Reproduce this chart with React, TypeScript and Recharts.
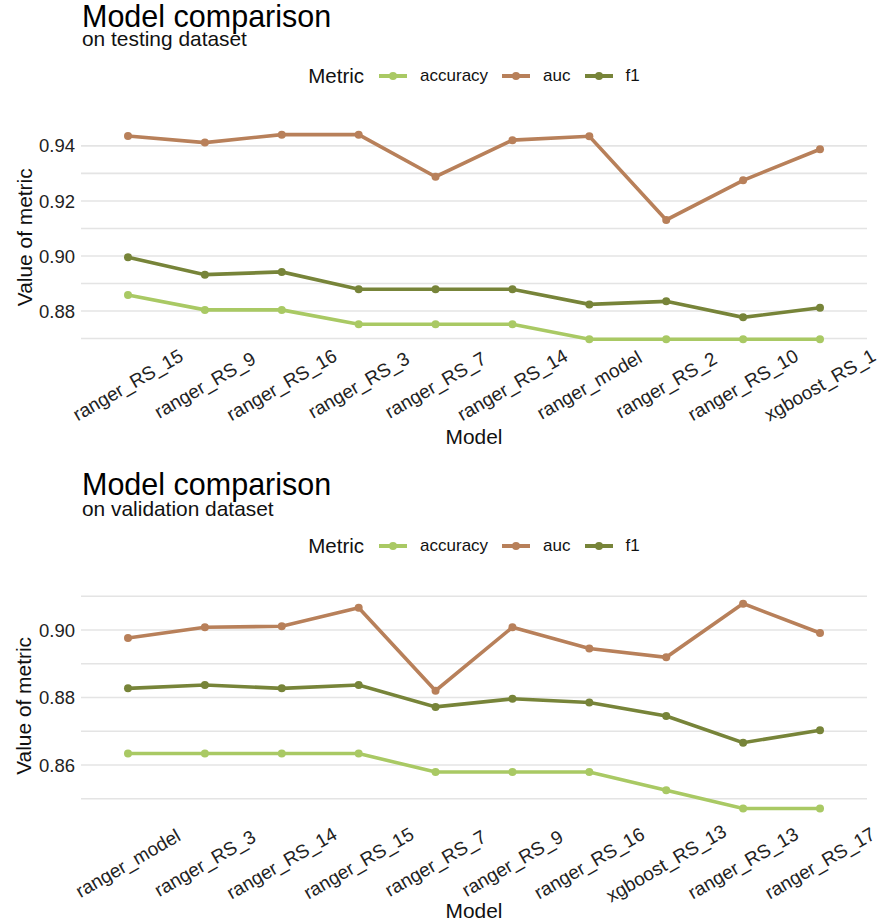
import { LineChart, Line, XAxis, YAxis, CartesianGrid, Legend } from "recharts";

const FONT = '"Liberation Sans", Arial, sans-serif';

const METRICS = ["accuracy", "auc", "f1"];
const COLORS = ["#a9c964", "#b8805a", "#778439"];

// testing dataset
const testModels = ["ranger_RS_15", "ranger_RS_9", "ranger_RS_16", "ranger_RS_3", "ranger_RS_7", "ranger_RS_14", "ranger_model", "ranger_RS_2", "ranger_RS_10", "xgboost_RS_1"];
const testAccuracy = [0.8858, 0.8804, 0.8804, 0.8752, 0.8752, 0.8752, 0.8697, 0.8697, 0.8697, 0.8697];
const testAuc = [0.9436, 0.9412, 0.9441, 0.9441, 0.9288, 0.9421, 0.9435, 0.9131, 0.9275, 0.9388];
const testF1 = [0.8995, 0.8932, 0.8942, 0.8879, 0.8879, 0.8879, 0.8824, 0.8835, 0.8777, 0.8812];
const testTicks = [0.87, 0.88, 0.89, 0.9, 0.91, 0.92, 0.93, 0.94];

// validation dataset
const valModels = ["ranger_model", "ranger_RS_3", "ranger_RS_14", "ranger_RS_15", "ranger_RS_7", "ranger_RS_9", "ranger_RS_16", "xgboost_RS_13", "ranger_RS_13", "ranger_RS_17"];
const valAccuracy = [0.8634, 0.8634, 0.8634, 0.8634, 0.8579, 0.8579, 0.8579, 0.8525, 0.8471, 0.8471];
const valAuc = [0.8976, 0.9008, 0.9011, 0.9066, 0.882, 0.9008, 0.8945, 0.8919, 0.9078, 0.8991];
const valF1 = [0.8827, 0.8837, 0.8827, 0.8837, 0.8772, 0.8796, 0.8785, 0.8745, 0.8666, 0.8703];
const valTicks = [0.85, 0.86, 0.87, 0.88, 0.89, 0.9, 0.91];

function toRows(models: string[], acc: number[], auc: number[], f1: number[]) {
  return models.map((m, i) => ({ model: m, accuracy: acc[i], auc: auc[i], f1: f1[i] }));
}

// only every other gridline gets a label, like ggplot's minor breaks
const fmtTick = (v: number) => (Math.round(v * 100) % 2 === 0 ? v.toFixed(2) : "");

function MetricLegend({ payload }: any) {
  const items = payload || [];
  return (
    <div style={{ display: "flex", alignItems: "center", justifyContent: "center", height: 24, fontFamily: FONT, color: "#111" }}>
      <span style={{ fontSize: 20.5, marginRight: 15 }}>Metric</span>
      {items.map((p: any, i: number) => (
        <span key={p.value} style={{ display: "flex", alignItems: "center", marginRight: i < items.length - 1 ? 14 : 0 }}>
          <svg width={28} height={12} style={{ marginRight: 13 }}>
            <line x1={0} y1={6} x2={28} y2={6} stroke={p.color} strokeWidth={4} />
            <circle cx={14} cy={6} r={4} fill={p.color} />
          </svg>
          <span style={{ fontSize: 17 }}>{p.value}</span>
        </span>
      ))}
    </div>
  );
}

function XTick({ x, y, payload, dy }: any) {
  const cy = y + dy;
  return (
    <text x={x} y={cy} textAnchor="middle" dominantBaseline="central" transform={`rotate(-30 ${x} ${cy})`} fontSize={19} fill="#222" fontFamily={FONT}>
      {payload.value}
    </text>
  );
}

interface PanelProps {
  top: number;
  height: number;
  marginTop: number;
  xAxisHeight: number;
  title: string;
  subtitle: string;
  titleTop: number;
  subtitleTop: number;
  legendTop: number;
  data: any[];
  domain: [number, number];
  ticks: number[];
  tickDy: number;
  xTitleDy: number;
}

function Panel(p: PanelProps) {
  return (
    <div style={{ position: "absolute", left: 0, top: p.top, width: 880, height: p.height }}>
      <div style={{ position: "absolute", left: 82, top: p.titleTop, fontSize: 30.5, lineHeight: "26px", color: "#000", whiteSpace: "nowrap" }}>{p.title}</div>
      <div style={{ position: "absolute", left: 82, top: p.subtitleTop, fontSize: 20.9, lineHeight: "20px", color: "#111", whiteSpace: "nowrap" }}>{p.subtitle}</div>
      <LineChart width={880} height={p.height} data={p.data} margin={{ top: p.marginTop, right: 13, left: 0, bottom: 0 }} style={{ fontFamily: FONT }}>
        <CartesianGrid vertical={false} syncWithTicks stroke="#e4e4e4" strokeWidth={1.6} />
        <XAxis
          dataKey="model"
          axisLine={false}
          tickLine={false}
          tickSize={0}
          tickMargin={0}
          interval={0}
          padding={{ left: 47, right: 47 }}
          height={p.xAxisHeight}
          tick={<XTick dy={p.tickDy} />}
          label={{
            content: ({ viewBox }: any) => (
              <text x={viewBox.x + viewBox.width / 2} y={viewBox.y + p.xTitleDy} textAnchor="middle" dominantBaseline="central" fontSize={20.9} fill="#111" fontFamily={FONT}>
                Model
              </text>
            ),
          }}
        />
        <YAxis
          width={81}
          domain={p.domain}
          ticks={p.ticks}
          interval={0}
          allowDataOverflow
          axisLine={false}
          tickLine={false}
          tickSize={0}
          tickMargin={6}
          tickFormatter={fmtTick}
          tick={{ fontSize: 18.5, fill: "#222", fontFamily: FONT }}
          label={{
            content: ({ viewBox }: any) => {
              const cx = viewBox.x + 24;
              const cy = viewBox.y + viewBox.height / 2;
              return (
                <text x={cx} y={cy} textAnchor="middle" dominantBaseline="central" transform={`rotate(-90 ${cx} ${cy})`} fontSize={20.9} fill="#111" fontFamily={FONT}>
                  Value of metric
                </text>
              );
            },
          }}
        />
        <Legend
          layout="horizontal"
          verticalAlign="middle"
          align="center"
          wrapperStyle={{ top: p.legendTop, left: 81, width: 786, height: 24 }}
          content={<MetricLegend />}
        />
        {METRICS.map((m, i) => (
          <Line
            key={m}
            type="linear"
            dataKey={m}
            name={m}
            stroke={COLORS[i]}
            strokeWidth={3.6}
            dot={{ r: 4, fill: COLORS[i], stroke: "none" }}
            activeDot={false}
            isAnimationActive={false}
          />
        ))}
      </LineChart>
    </div>
  );
}

export default function App() {
  return (
    <div style={{ position: "absolute", left: 0, top: 0, width: 880, height: 924, background: "#fff", fontFamily: FONT }}>
      <Panel
        top={0}
        height={455}
        marginTop={125}
        xAxisHeight={105.5}
        title="Model comparison"
        subtitle="on testing dataset"
        titleTop={2.9}
        subtitleTop={29.3}
        legendTop={64}
        data={toRows(testModels, testAccuracy, testAuc, testF1)}
        domain={[0.866, 0.9476]}
        ticks={testTicks}
        tickDy={35.5}
        xTitleDy={87}
      />
      <Panel
        top={455}
        height={469}
        marginTop={138.5}
        xAxisHeight={105.7}
        title="Model comparison"
        subtitle="on validation dataset"
        titleTop={15.9}
        subtitleTop={43.8}
        legendTop={79}
        data={toRows(valModels, valAccuracy, valAuc, valF1)}
        domain={[0.8442, 0.9108]}
        ticks={valTicks}
        tickDy={45}
        xTitleDy={92}
      />
    </div>
  );
}
